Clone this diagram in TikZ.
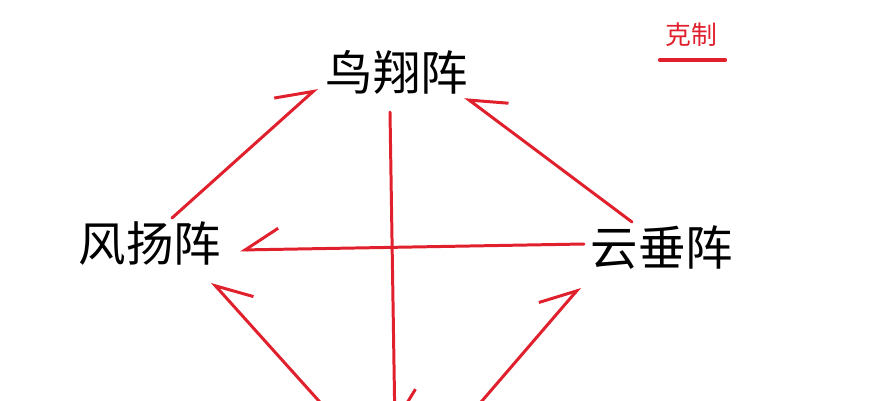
\documentclass[tikz,border=0pt]{standalone}
\usepackage{fontspec}
\newfontfamily\cjk{Noto Sans CJK SC}
\usetikzlibrary{arrows.meta}
\definecolor{kered}{RGB}{224,32,44}
\tikzset{
x=0.02cm, y=-0.02cm, % one unit is one pixel of the sketch
formation/.style={font=\cjk\fontsize{27}{30}\selectfont, inner sep=0pt}, % the formation names
beats/.style={draw=kered, line width=1.7pt, line cap=round}, % red lines
lbarb/.style={beats, -{Straight Barb[left, length=19pt, width=24pt]}}, % barb on the left
rbarb/.style={beats, -{Straight Barb[right, length=19pt, width=24pt]}}, % barb on the right
}

\begin{document}
\begin{tikzpicture}
    \useasboundingbox (0,0) rectangle (870,400);
    % formations
    \node[formation] (bird) at (397,72) {鸟翔阵};
    \node[formation] (wind) at (150,243) {风扬阵};
    \node[formation] (cloud) at (662,248) {云垂阵};
    \coordinate (low) at (400,450);
    % legend
    \node[text=kered, font=\cjk\fontsize{14.7}{16}\selectfont, inner sep=0pt] (key) at (691,35) {克制};
    \draw[beats, line width=2.5pt] ([shift={(-31,25)}]key.center) -- ++(65,0);
    % who beats whom
    \draw
    ([shift={(22,-25)}]wind.center) edge[lbarb] ([shift={(-80,16)}]bird.center)
    ([shift={(-30,-26)}]cloud.center) edge[rbarb] ([shift={(68,25)}]bird.center)
    ([shift={(-78,-4)}]cloud.center) edge[rbarb] ([shift={(90,7)}]wind.center)
    ([shift={(-7,40)}]bird.center) edge[lbarb] ([shift={(-5,-22)}]low)
    ([shift={(-55,-20)}]low) edge[rbarb] ([shift={(62,39)}]wind.center)
    ([shift={(57,-20)}]low) edge[lbarb] ([shift={(-82,39)}]cloud.center);
\end{tikzpicture}
\end{document}
